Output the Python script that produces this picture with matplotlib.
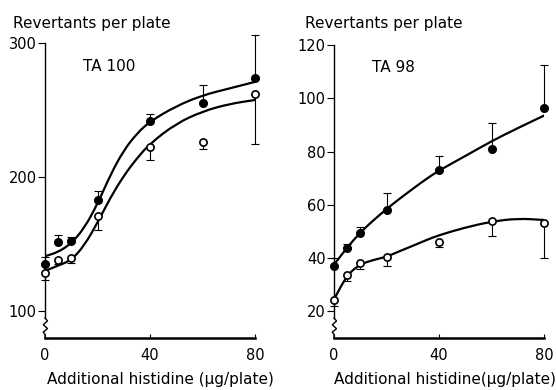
import numpy as np
import matplotlib
matplotlib.use("Agg")
import matplotlib.pyplot as plt
from matplotlib.path import Path
from matplotlib.patches import PathPatch

plt.rcParams['font.family'] = ['DejaVu Sans']

# ---------------- data ----------------
dose = [0, 5, 10, 20, 40, 60, 80]

ta100_filled = [135, 151.5, 152, 183, 242, 255.5, 274]
ta100_filled_err = [5.5, 5.5, 3, 6.5, 5, 13.5, 32]
ta100_open = [128.6, 137.8, 139.5, 170.8, 222.6, 226.5, 261.8]
ta100_open_err = [5, 2.5, 3.5, 10, 9.5, 5.5, 37]

ta98_filled = [37.1, 43.8, 49.6, 58.2, 73, 81.1, 96.5]
ta98_filled_err = [2.9, 1.5, 2.2, 6.2, 5.3, 9.5, 16]
ta98_open = [24.3, 33.8, 38.2, 40.5, 46.1, 53.8, 53.2]
ta98_open_err = [2.3, 2.3, 2.2, 3.5, 2.1, 5.4, 13]

# fitted curves
curve_x = [0, 5, 10, 15, 20, 25, 30, 35, 40, 50, 60, 70, 80]
ta100_filled_curve = [141, 144, 150.5, 162, 180, 202, 220, 232.5, 241.5, 253, 261, 266, 271]
ta100_open_curve = [130, 134, 138, 149, 166, 185, 201, 214, 225, 240, 249, 254.5, 257.5]
ta98_filled_curve = [37.5, 44, 49.6, 54.2, 58.4, 62.3, 66, 69.6, 72.9, 78.3, 83.9, 88.8, 93.5]
ta98_open_curve = [24.5, 33.7, 37.7, 39.3, 40.5, 42.6, 44.6, 46.7, 48.6, 51.5, 53.7, 54.9, 54.3]

x_ticks = [0, 40, 80]
ta100_yticks = [100, 200, 300]
ta98_yticks = [20, 40, 60, 80, 100, 120]

panels = [
    dict(name="TA 100", filled=ta100_filled, ferr=ta100_filled_err,
         open=ta100_open, oerr=ta100_open_err,
         fcurve=ta100_filled_curve, ocurve=ta100_open_curve,
         yticks=ta100_yticks, ylim=(80, 300),
         rect=[45/556, 1-338/390, 210/556, 295/390],
         title_x=13/556, label_x=0.548,
         xlabel="Additional histidine (µg/plate)"),
    dict(name="TA 98", filled=ta98_filled, ferr=ta98_filled_err,
         open=ta98_open, oerr=ta98_open_err,
         fcurve=ta98_filled_curve, ocurve=ta98_open_curve,
         yticks=ta98_yticks, ylim=(10, 120),
         rect=[334/556, 1-338/390, 210/556, 293/390],
         title_x=305/556, label_x=0.53,
         xlabel="Additional histidine(µg/plate)"),
]


def smooth_path(xs, ys):
    """Quadratic Bezier path through midpoints, using the read points as controls."""
    pts = list(zip(xs, ys))
    verts = [pts[0]]
    codes = [Path.MOVETO]
    mid = lambda a, b: ((a[0] + b[0]) / 2, (a[1] + b[1]) / 2)
    verts.append(mid(pts[0], pts[1]))
    codes.append(Path.LINETO)
    for i in range(1, len(pts) - 1):
        verts.append(pts[i])
        verts.append(mid(pts[i], pts[i + 1]))
        codes += [Path.CURVE3, Path.CURVE3]
    verts.append(pts[-1])
    codes.append(Path.LINETO)
    return Path(verts, codes)


fig = plt.figure(figsize=(5.56, 3.9), dpi=100)

for p in panels:
    ax = fig.add_axes(p["rect"])
    ax.set_xlim(0, 80)
    ax.set_ylim(*p["ylim"])
    for s in ("top", "right"):
        ax.spines[s].set_visible(False)
    ax.spines["bottom"].set_linewidth(1.8)
    ax.spines["left"].set_linewidth(1.0)
    y0, y1 = p["ylim"]
    brk = y0 + 0.068 * (y1 - y0)
    ax.spines["left"].set_bounds(brk, y1)
    # axis break zigzag
    zx = [0, 0.012, -0.008, 0.012, -0.008, 0, 0]
    zy = [0.068, 0.058, 0.045, 0.032, 0.020, 0.012, 0.0]
    ax.plot(zx, zy, transform=ax.transAxes, color="black", lw=1.0,
            clip_on=False, solid_joinstyle="miter")

    ax.set_xticks(x_ticks)
    ax.set_yticks(p["yticks"])
    ax.tick_params(axis="y", direction="out", length=5, width=0.8,
                   labelsize=10.5, pad=1)
    ax.tick_params(axis="x", direction="in", length=3, width=0.8,
                   labelsize=10.5, pad=7)

    # fitted curves
    for cy in (p["fcurve"], p["ocurve"]):
        ax.add_patch(PathPatch(smooth_path(curve_x, cy), fill=False,
                               edgecolor="black", lw=1.6, zorder=2,
                               capstyle="round"))

    zeros = [0] * len(dose)
    ax.errorbar(dose, p["filled"], yerr=[zeros, p["ferr"]], fmt="none",
                ecolor="black", elinewidth=0.8, capsize=3, capthick=0.8,
                zorder=3, clip_on=False)
    ax.errorbar(dose, p["open"], yerr=[p["oerr"], zeros], fmt="none",
                ecolor="black", elinewidth=0.8, capsize=3, capthick=0.8,
                zorder=3, clip_on=False)
    ax.plot(dose, p["filled"], "o", color="black", ms=5.5, zorder=4,
            clip_on=False)
    ax.plot(dose, p["open"], "o", mfc="white", mec="black", mew=1.2,
            ms=5.2, zorder=4, clip_on=False)

    ax.text(0.18, 0.922, p["name"], transform=ax.transAxes, fontsize=11,
            ha="left", va="center")
    ax.text(p["label_x"], -0.142, p["xlabel"], transform=ax.transAxes,
            fontsize=11, ha="center", va="center")
    fig.text(p["title_x"], 1 - 28/390, "Revertants per plate",
             fontsize=11, ha="left", va="baseline")

fig.savefig("out.png", dpi=100)
